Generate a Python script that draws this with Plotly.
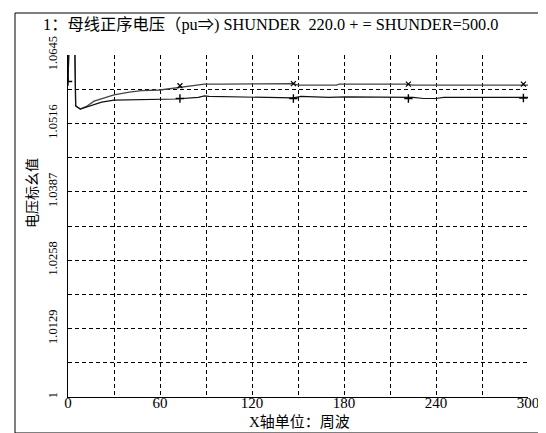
import plotly.graph_objects as go

# Upper curve (x markers)
t_upper = [0, 0.5, 4.5, 5, 8, 12, 17, 25, 30, 40, 48, 60, 70, 77, 89, 100, 120, 140, 147, 150, 175, 177, 220, 225, 300]
v_upper = [1.0595, 1.0647, 1.0647, 1.0549, 1.0543, 1.0548, 1.0558, 1.0566, 1.0570, 1.0575, 1.0578, 1.0579,
           1.0583, 1.0586, 1.0590, 1.0590, 1.0590, 1.0590, 1.0591, 1.0588, 1.0588, 1.0590, 1.0590, 1.0588, 1.0588]
# Lower curve (+ markers)
t_lower = [0, 0.5, 4.5, 5, 8, 12, 17, 22, 30, 50, 70, 85, 89, 92, 110, 130, 147, 152, 170, 181, 225, 232, 240, 245, 300]
v_lower = [1.0595, 1.0647, 1.0647, 1.0549, 1.0543, 1.0547, 1.0551, 1.0556, 1.0560, 1.0561, 1.0562, 1.0565,
           1.0568, 1.0567, 1.0566, 1.0565, 1.0564, 1.0567, 1.0565, 1.0566, 1.0565, 1.0563, 1.0563, 1.0565, 1.0565]
# marker points
tm_upper = [73, 147, 222, 297]
vm_upper = [1.0587, 1.0591, 1.0590, 1.0590]
tm_lower = [0, 73, 147, 222, 297]
vm_lower = [1.0595, 1.0563, 1.0563, 1.0563, 1.0564]

x_tickvals = [0, 30, 60, 90, 120, 150, 180, 210, 240, 270, 300]
x_ticktext = ["0", "", "60", "", "120", "", "180", "", "240", "", "300"]
y_tickvals = [1, 1.00645, 1.0129, 1.01935, 1.0258, 1.03225, 1.0387, 1.04515, 1.0516, 1.05805, 1.0645]
y_ticktext = ["1", "", "1.0129", "", "1.0258", "", "1.0387", "", "1.0516", "", "1.0645"]

FONT = "Liberation Serif, Noto Sans CJK SC, serif"

fig = go.Figure()
fig.add_trace(go.Scatter(x=t_upper, y=v_upper, mode="lines", line=dict(color="#444444", width=1.3), showlegend=False))
fig.add_trace(go.Scatter(x=t_lower, y=v_lower, mode="lines", line=dict(color="#111111", width=1.2), showlegend=False))
fig.add_trace(go.Scatter(x=tm_upper, y=vm_upper, mode="markers",
                         marker=dict(symbol="x-thin", size=5, line=dict(width=1.2, color="black")), showlegend=False))
fig.add_trace(go.Scatter(x=tm_lower, y=vm_lower, mode="markers",
                         marker=dict(symbol="cross-thin", size=6, line=dict(width=1.4, color="black")), showlegend=False))

L, R, T, B = 60, 26, 47, 44
W, H = 546, 433
pw, ph = W - L - R, H - T - B

def px(x):
    return (x - L) / pw

def py(y):
    return (H - B - y) / ph

fig.update_layout(
    width=W, height=H,
    margin=dict(l=L, r=R, t=T, b=B),
    paper_bgcolor="white", plot_bgcolor="white",
    font=dict(family=FONT, color="black", size=14),
    xaxis=dict(range=[0, 300], tickmode="array", tickvals=x_tickvals, ticktext=x_ticktext,
               showgrid=True, gridcolor="black", griddash="4px,3px", gridwidth=1,
               showline=True, linecolor="black", linewidth=1.2, zeroline=False, ticks="", ticklen=0,
               ticklabelstandoff=-8, tickfont=dict(size=15, family=FONT)),
    yaxis=dict(range=[1, 1.0645], tickmode="array", tickvals=y_tickvals, ticktext=y_ticktext,
               showgrid=True, gridcolor="black", griddash="4px,3px", gridwidth=1,
               showline=True, linecolor="black", linewidth=1.2, zeroline=False, ticks="", ticklen=0,
               ticklabelstandoff=5, tickangle=-90, tickfont=dict(size=12.5, family=FONT)),
    shapes=[dict(type="rect", xref="paper", yref="paper", x0=px(7), x1=px(539), y0=py(425), y1=py(5),
                 line=dict(color="black", width=1))],
    annotations=[
        dict(text="1：母线正序电压（pu⇒) SHUNDER  220.0 + = SHUNDER=500.0", xref="paper", yref="paper",
             x=px(33), y=py(17), xanchor="left", yanchor="middle", showarrow=False,
             font=dict(size=16.3, family=FONT)),
        dict(text="X轴单位：周波", xref="paper", yref="paper", x=px(291), y=py(414),
             xanchor="center", yanchor="middle", showarrow=False, font=dict(size=15, family=FONT)),
        dict(text="电压标幺值", xref="paper", yref="paper", x=px(24), y=py(185),
             xanchor="center", yanchor="middle", textangle=-90, showarrow=False, font=dict(size=14, family=FONT)),
    ],
)

fig.write_html("out.html")
